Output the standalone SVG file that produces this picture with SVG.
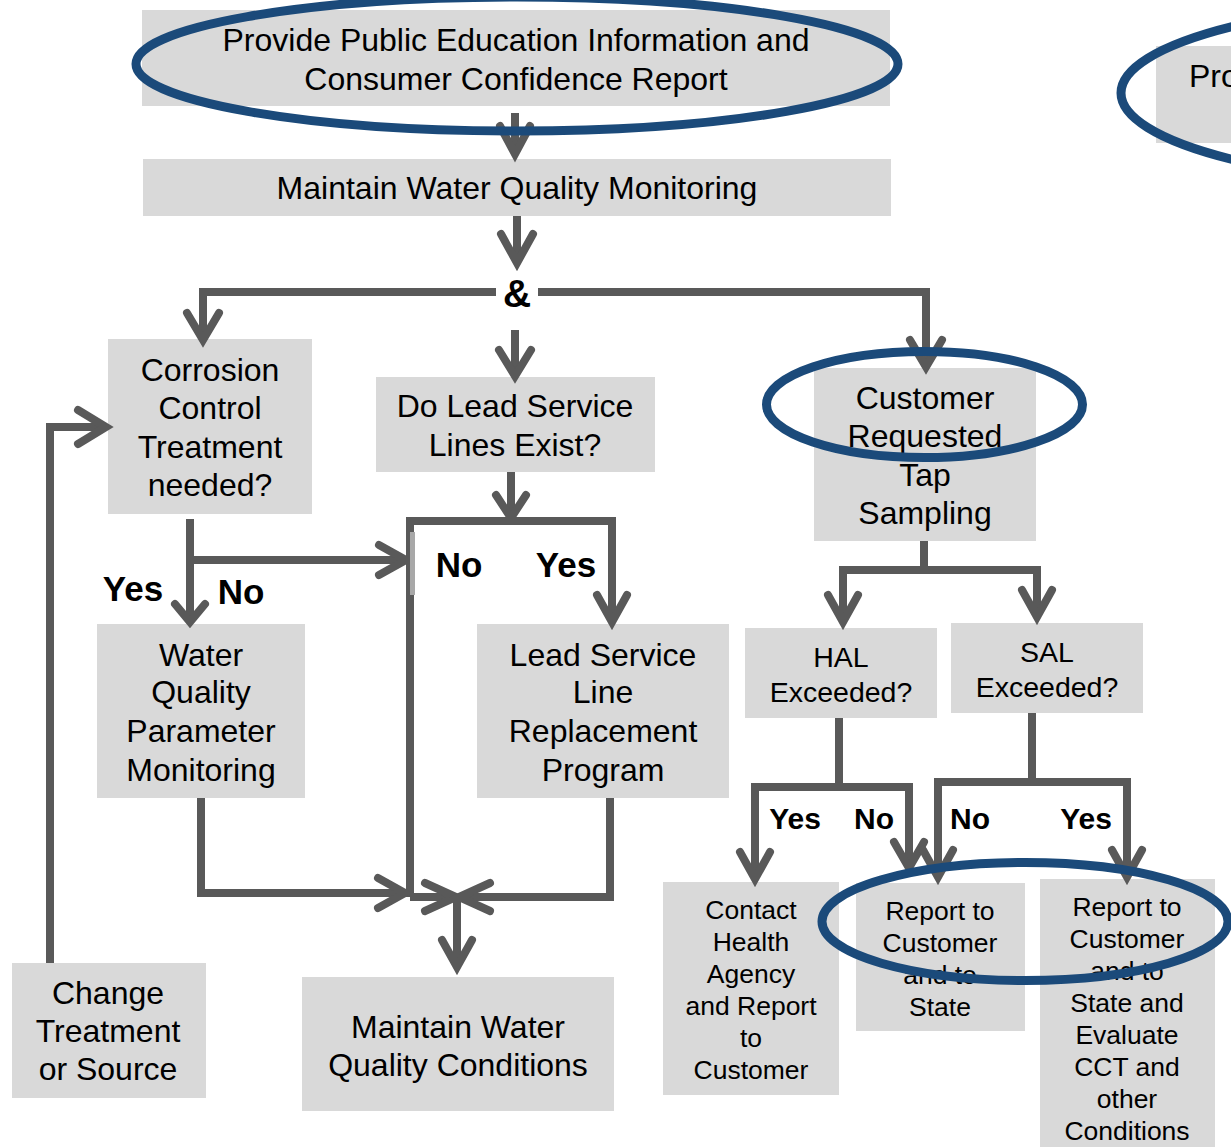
<svg xmlns="http://www.w3.org/2000/svg" width="1231" height="1147" viewBox="0 0 1231 1147">
<style>
.box{fill:#D9D9D9}
.t{font-family:"Liberation Sans",Arial,sans-serif;font-size:32px;fill:#000;text-anchor:middle}
.s{font-size:28.5px}
.xs{font-size:26.5px}
.lb{font-family:"Liberation Sans",Arial,sans-serif;font-weight:bold;fill:#000;text-anchor:middle}
.c{fill:none;stroke:#595959;stroke-width:8}
.h{fill:none;stroke:#595959;stroke-width:8;stroke-linecap:round;stroke-linejoin:miter}
.e{fill:none;stroke:#1B4A7A;stroke-width:9}
</style>
<rect width="1231" height="1147" fill="#fff"/>

<g id="n-education"><rect class="box" x="142" y="10" width="748" height="96"/>
<text class="t" x="516" y="51">Provide Public Education Information and</text>
<text class="t" x="516" y="90">Consumer Confidence Report</text></g>

<g id="n-right-partial"><rect class="box" x="1156" y="46" width="80" height="97"/>
<text class="t" x="1189" y="87" style="text-anchor:start">Pro</text></g>

<g id="n-monitoring"><rect class="box" x="143" y="159" width="748" height="57"/>
<text class="t" x="517" y="199">Maintain Water Quality Monitoring</text></g>

<g id="n-corrosion"><rect class="box" x="108" y="339" width="204" height="175"/>
<text class="t" x="210" y="381">Corrosion</text>
<text class="t" x="210" y="419">Control</text>
<text class="t" x="210" y="458">Treatment</text>
<text class="t" x="210" y="496">needed?</text></g>

<g id="n-lsl-exist"><rect class="box" x="376" y="377" width="279" height="95"/>
<text class="t" x="515" y="417">Do Lead Service</text>
<text class="t" x="515" y="456">Lines Exist?</text></g>

<g id="n-customer"><rect class="box" x="814" y="368" width="222" height="173"/>
<text class="t" x="925" y="409">Customer</text>
<text class="t" x="925" y="447">Requested</text>
<text class="t" x="925" y="486">Tap</text>
<text class="t" x="925" y="524">Sampling</text></g>

<g id="n-wqp"><rect class="box" x="97" y="624" width="208" height="174"/>
<text class="t" x="201" y="666">Water</text>
<text class="t" x="201" y="703">Quality</text>
<text class="t" x="201" y="742">Parameter</text>
<text class="t" x="201" y="781">Monitoring</text></g>

<g id="n-lslr"><rect class="box" x="477" y="624" width="252" height="174"/>
<text class="t" x="603" y="666">Lead Service</text>
<text class="t" x="603" y="703">Line</text>
<text class="t" x="603" y="742">Replacement</text>
<text class="t" x="603" y="781">Program</text></g>

<g id="n-hal"><rect class="box" x="745" y="628" width="192" height="90"/>
<text class="t s" x="841" y="667">HAL</text>
<text class="t s" x="841" y="702">Exceeded?</text></g>

<g id="n-sal"><rect class="box" x="951" y="623" width="192" height="90"/>
<text class="t s" x="1047" y="662">SAL</text>
<text class="t s" x="1047" y="697">Exceeded?</text></g>

<g id="n-contact"><rect class="box" x="663" y="882" width="176" height="213"/>
<text class="t xs" x="751" y="919">Contact</text>
<text class="t xs" x="751" y="951">Health</text>
<text class="t xs" x="751" y="983">Agency</text>
<text class="t xs" x="751" y="1015">and Report</text>
<text class="t xs" x="751" y="1047">to</text>
<text class="t xs" x="751" y="1079">Customer</text></g>

<g id="n-report-state"><rect class="box" x="856" y="883" width="169" height="148"/>
<text class="t xs" x="940" y="920">Report to</text>
<text class="t xs" x="940" y="952">Customer</text>
<text class="t xs" x="940" y="984">and to</text>
<text class="t xs" x="940" y="1016">State</text></g>

<g id="n-report-evaluate"><rect class="box" x="1040" y="879" width="175" height="270"/>
<text class="t xs" x="1127" y="916">Report to</text>
<text class="t xs" x="1127" y="948">Customer</text>
<text class="t xs" x="1127" y="980">and to</text>
<text class="t xs" x="1127" y="1012">State and</text>
<text class="t xs" x="1127" y="1044">Evaluate</text>
<text class="t xs" x="1127" y="1076">CCT and</text>
<text class="t xs" x="1127" y="1108">other</text>
<text class="t xs" x="1127" y="1140">Conditions</text></g>

<g id="n-change"><rect class="box" x="12" y="963" width="194" height="135"/>
<text class="t" x="108" y="1004">Change</text>
<text class="t" x="108" y="1042">Treatment</text>
<text class="t" x="108" y="1080">or Source</text></g>

<g id="n-conditions"><rect class="box" x="302" y="977" width="312" height="134"/>
<text class="t" x="458" y="1038">Maintain Water</text>
<text class="t" x="458" y="1076">Quality Conditions</text></g>

<g id="connectors">
<path class="c" d="M515 113V153"/><path class="h" d="M500 126L515 154L530 126"/>
<path class="c" d="M517 216V262"/><path class="h" d="M501 234L517 263L533 234"/>
<path class="c" d="M203 338V292H496M538 292H926V366"/>
<path class="h" d="M187 313L203 340L219 313"/><path class="h" d="M910 340L926 367L942 340"/>
<path class="c" d="M515 330V375"/><path class="h" d="M499 350L515 376L531 350"/>
<path class="c" d="M190 519V620M190 560H404"/>
<path class="h" d="M175 604L190 622L205 604"/><path class="h" d="M379 545L406 560L379 575"/>
<path class="c" d="M511 472V516"/><path class="h" d="M496 495L511 518L526 495"/>
<path class="c" d="M410 897V521H612V620"/><path class="h" d="M597 595L612 622L627 595"/>
<rect x="410" y="532" width="5" height="63" fill="#a8a8a8"/>
<path class="c" d="M201 798V893H403"/><path class="h" d="M378 878L405 893L378 908"/>
<path class="c" d="M410 897H454"/><path class="h" d="M425 883L456 897L425 911"/>
<path class="c" d="M610 798V897H461"/><path class="h" d="M490 883L459 897L490 911"/>
<path class="c" d="M457 897V965"/><path class="h" d="M442 940L457 967L472 940"/>
<path class="c" d="M50 963V427H104"/><path class="h" d="M78 410L106 427L78 444"/>
<path class="c" d="M924 541V570M843 620V570H1037V615"/>
<path class="h" d="M828 595L843 622L858 595"/><path class="h" d="M1022 590L1037 617L1052 590"/>
<path class="c" d="M839 718V787M755 877V787H909V866"/>
<path class="h" d="M740 852L755 879L770 852"/><path class="h" d="M894 842L909 868L924 842"/>
<path class="c" d="M1032 713V782M938 875V782H1127V875"/>
<path class="h" d="M923 850L938 877L953 850"/><path class="h" d="M1112 850L1127 877L1142 850"/>
<text class="lb" x="517" y="307" font-size="39">&amp;</text>
<text class="lb" x="133" y="601" font-size="35">Yes</text>
<text class="lb" x="241" y="604" font-size="35">No</text>
<text class="lb" x="459" y="577" font-size="35">No</text>
<text class="lb" x="566" y="577" font-size="35">Yes</text>
<text class="lb" x="795" y="829" font-size="30">Yes</text>
<text class="lb" x="874" y="829" font-size="30">No</text>
<text class="lb" x="970" y="829" font-size="30">No</text>
<text class="lb" x="1086" y="829" font-size="30">Yes</text>
</g>

<g id="highlights">
<ellipse class="e" cx="517" cy="64" rx="381" ry="67"/>
<ellipse class="e" cx="1502" cy="93" rx="381" ry="94"/>
<ellipse class="e" cx="924.5" cy="404.5" rx="158" ry="53"/>
<ellipse class="e" cx="1025" cy="921.5" rx="203" ry="59"/>
</g>
</svg>
